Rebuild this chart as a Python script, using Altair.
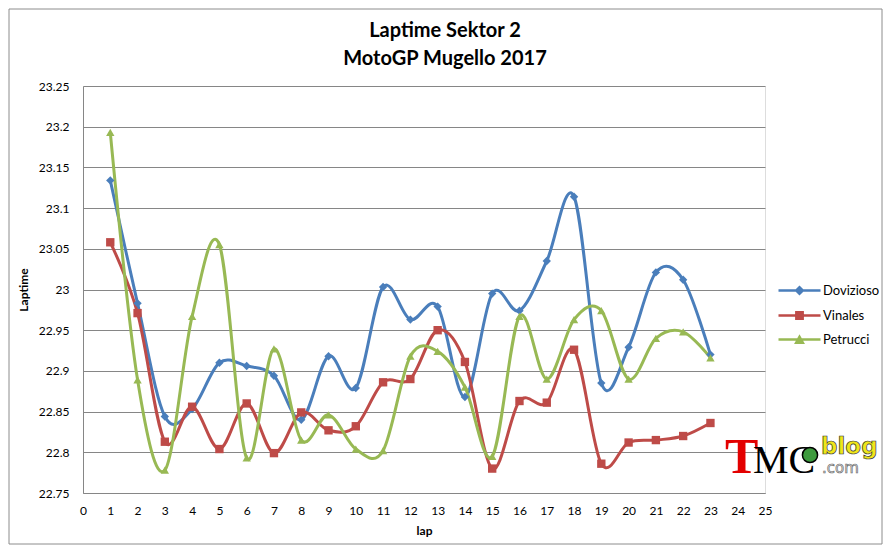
import altair as alt
import pandas as pd

laps = list(range(1, 24))
riders = ["Dovizioso", "Vinales", "Petrucci"]
dovizioso = [23.134, 22.983, 22.844, 22.853, 22.910, 22.906, 22.894, 22.840, 22.918, 22.879,
             23.003, 22.963, 22.979, 22.868, 22.995, 22.974, 23.035, 23.114, 22.885, 22.929,
             23.021, 23.012, 22.920]
vinales = [23.058, 22.971, 22.813, 22.856, 22.804, 22.860, 22.799, 22.849, 22.827, 22.832,
           22.886, 22.890, 22.950, 22.911, 22.780, 22.863, 22.861, 22.926, 22.786, 22.812,
           22.815, 22.820, 22.836]
petrucci = [23.193, 22.889, 22.778, 22.967, 23.055, 22.793, 22.927, 22.815, 22.846, 22.804,
            22.802, 22.918, 22.924, 22.880, 22.795, 22.967, 22.890, 22.963, 22.974, 22.890,
            22.940, 22.948, 22.916]
x_ticks = list(range(0, 26))
y_ticks = [22.75, 22.8, 22.85, 22.9, 22.95, 23.0, 23.05, 23.1, 23.15, 23.2, 23.25]
colors = ["#4A7EBB", "#BE4B48", "#98B954"]
shapes = ["diamond", "square", "triangle-up"]
legend_paths = [
    "M-2,-0.13H2V0.13H-2Z M0,-0.48L0.48,0L0,0.48L-0.48,0Z",
    "M-2,-0.13H2V0.13H-2Z M-0.42,-0.42H0.42V0.42H-0.42Z",
    "M-2,-0.13H2V0.13H-2Z M0,-0.5L0.52,0.42H-0.52Z",
]

rows = []
for name, vals in zip(riders, [dovizioso, vinales, petrucci]):
    for lap, v in zip(laps, vals):
        rows.append({"lap": lap, "rider": name, "laptime": v})
df = pd.DataFrame(rows)

FONT = "Lato"

x_axis = alt.Axis(values=x_ticks, tickCount=26, title="lap", grid=False, ticks=False,
                  domainColor="#868686", labelPadding=12, labelFontSize=12,
                  labelColor="black", labelFont=FONT, titleFont=FONT,
                  titleFontSize=12, titleFontWeight="bold", titlePadding=9,
                  titleColor="black", labelFlush=False, labelOverlap=False)
y_axis = alt.Axis(values=y_ticks, title="Laptime", format="~f", grid=True,
                  gridColor="#868686", domainColor="#868686", ticks=False,
                  labelPadding=14, labelFontSize=12, labelColor="black",
                  labelFont=FONT, titleFont=FONT, titleFontSize=12,
                  titleFontWeight="bold", titleColor="black", titlePadding=8,
                  labelFlush=False, labelOverlap=False)
x_scale = alt.Scale(domain=[0, 25], nice=False)
y_scale = alt.Scale(domain=[22.75, 23.25], nice=False, zero=False)


def xe():
    return alt.X("lap:Q", scale=x_scale, axis=x_axis)


def ye():
    return alt.Y("laptime:Q", scale=y_scale, axis=y_axis)


color_scale = alt.Scale(domain=riders, range=colors)

base = alt.Chart(df)

lines = base.mark_line(interpolate="cardinal", strokeWidth=3).encode(
    x=xe(), y=ye(),
    color=alt.Color("rider:N", scale=color_scale, legend=None),
    detail="rider:N",
)

points = base.mark_point(filled=True, size=70, opacity=1).encode(
    x=xe(), y=ye(),
    color=alt.Color("rider:N", scale=color_scale, legend=None),
    shape=alt.Shape("rider:N", scale=alt.Scale(domain=riders, range=shapes), legend=None),
)

leg = dict(title=None, orient="none", legendX=705, legendY=193, symbolSize=441,
           labelOffset=12, rowPadding=5, padding=0, labelFont=FONT, labelFontSize=13,
           labelColor="black", symbolOpacity=1)
legend_layer = base.transform_filter("false").mark_point(filled=True).encode(
    x=xe(), y=ye(),
    color=alt.Color("rider:N", scale=color_scale, legend=alt.Legend(**leg)),
    shape=alt.Shape("rider:N", scale=alt.Scale(domain=riders, range=legend_paths),
                    legend=alt.Legend(**leg)),
)

one = alt.Data(values=[{"k": 1}])
border = alt.Chart(one).mark_rect(fill="transparent", stroke="#8C8C8C", strokeWidth=1).encode(
    x=alt.value(-74), x2=alt.value(799), y=alt.value(-77), y2=alt.value(458))

logo_t = alt.Chart(one).mark_text(text="T", font="Liberation Serif", fontSize=50,
                                  fontWeight="bold", color="#E30000", align="left",
                                  baseline="alphabetic").encode(x=alt.value(642), y=alt.value(387))
logo_mc = alt.Chart(one).mark_text(text="MC", font="Liberation Serif", fontSize=40,
                                   color="black", align="left",
                                   baseline="alphabetic").encode(x=alt.value(670), y=alt.value(387))
logo_circle = alt.Chart(one).mark_point(shape="circle", filled=True, size=230, color="#3E9B3E",
                                        stroke="black", strokeWidth=1.5,
                                        opacity=1).encode(x=alt.value(727), y=alt.value(369))
logo_blog = alt.Chart(one).mark_text(text="blog", font="DejaVu Sans", fontSize=23,
                                     fontWeight="bold", color="#EFE61A", stroke="#333333",
                                     strokeWidth=0.7, align="left",
                                     baseline="alphabetic").encode(x=alt.value(738), y=alt.value(368))
logo_com = alt.Chart(one).mark_text(text=".com", font="DejaVu Sans", fontSize=15,
                                    color="#DDDDDD", stroke="#666666", strokeWidth=0.6,
                                    align="left",
                                    baseline="alphabetic").encode(x=alt.value(739), y=alt.value(387))

chart = alt.layer(
    border, lines, points, legend_layer,
    logo_t, logo_mc, logo_circle, logo_blog, logo_com,
).resolve_scale(color="independent", shape="independent").properties(
    width=682, height=407,
    autosize=alt.AutoSizeParams(type="none"),
    padding={"left": 75, "top": 78, "right": 118, "bottom": 52},
    title=alt.TitleParams(["Laptime Sektor 2", "MotoGP Mugello 2017"], font=FONT,
                          fontSize=20, fontWeight="bold", color="black", anchor="middle",
                          dx=21, offset=-60, lineHeight=28),
).configure_view(strokeWidth=0).configure(background="white")

chart.save("out.html", embed_options={"renderer": "svg", "actions": False})
